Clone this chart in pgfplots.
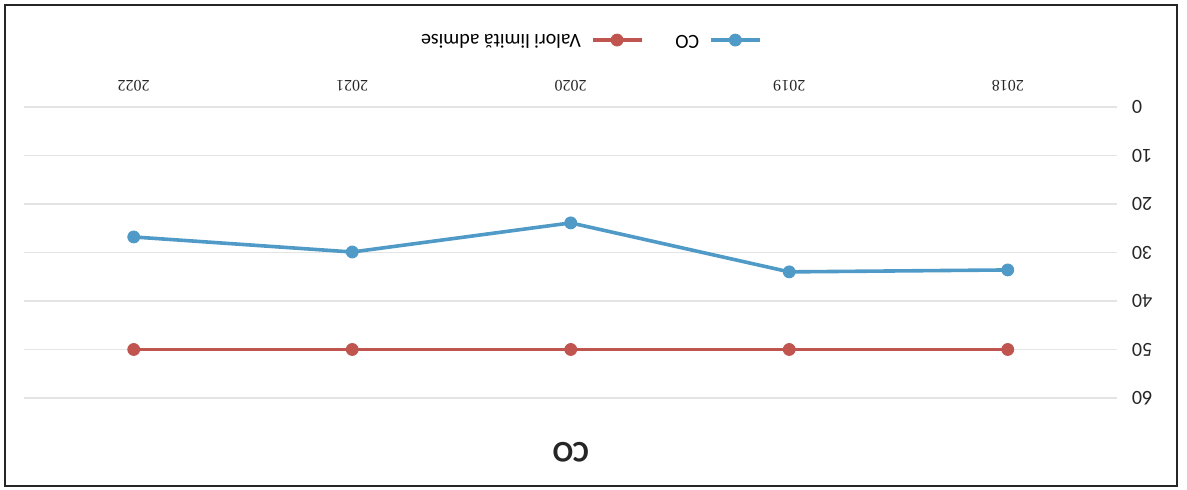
\documentclass[border=0pt]{standalone}
\usepackage{graphicx}
\usepackage{fontspec}
\setmainfont{Carlito}
\newfontfamily\yearfont{Liberation Serif}
\usepackage{pgfplots}
\pgfplotsset{compat=1.18}

\definecolor{coblue}{HTML}{4F9AC6}
\definecolor{limred}{HTML}{C0544F}
\definecolor{gridgray}{HTML}{E4E4E4}

\pgfplotstableread{
idx year co limit
0 2018 33.6 50
1 2019 34.0 50
2 2020 23.9 50
3 2021 29.9 50
4 2022 26.8 50
}\codata

\begin{document}
\rotatebox{180}{%
\begin{tikzpicture}
\begin{axis}[
  at={(35pt,53.5pt)}, anchor=south west,
  scale only axis,
  width=546.25pt, height=145.5pt,
  xmin=-0.5, xmax=4.5,
  ymin=0, ymax=60,
  ytick={0,10,...,60},
  xtick=data,
  xticklabels={2018,2019,2020,2021,2022},
  axis line style={draw=none},
  major tick length=0pt,
  ymajorgrids,
  grid style={gridgray, line width=0.6pt},
  /pgf/number format/assume math mode=true,
  yticklabel style={font=\fontsize{10}{12}\selectfont, xshift=-4pt, text=black!85},
  xticklabel style={font=\yearfont\fontsize{8}{10}\selectfont, yshift=-4.5pt, text=black!85},
  title={CO},
  title style={at={(0.5,1.145)}, anchor=center, font=\bfseries\fontsize{15}{18}\selectfont, text=black!85},
  legend style={at={(0.483,-0.23)}, anchor=center, draw=none, fill=none,
    font=\fontsize{10}{12}\selectfont, legend columns=2,
    /tikz/every odd column/.append style={column sep=3pt},
    /tikz/every even column/.append style={column sep=14pt}},
  legend image code/.code={%
    \draw[mark repeat=2, mark phase=2] plot coordinates {(0cm,0cm) (0.43cm,0cm) (0.86cm,0cm)};},
  every axis plot/.append style={line width=1.8pt, mark=*, mark size=3pt},
  clip=false,
]
\addplot[coblue, mark options={fill=coblue, draw=coblue, line width=0.4pt}] table[x=idx, y=co] {\codata};
\addlegendentry{CO}
\addplot[limred, mark options={fill=limred, draw=limred, line width=0.4pt}] table[x=idx, y=limit] {\codata};
\addlegendentry{Valori limită admise}
\end{axis}
\draw[black!85, line width=1pt] (5pt,2.5pt) rectangle (591pt,243pt);
\pgfresetboundingbox
\useasboundingbox (0,0) rectangle (593.5pt,245pt);
\end{tikzpicture}%
}
\end{document}
